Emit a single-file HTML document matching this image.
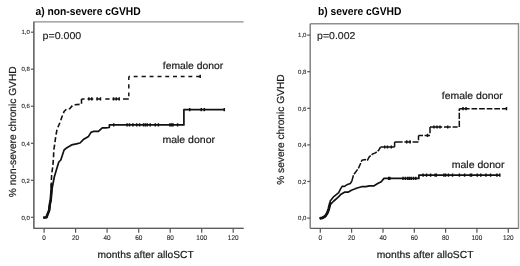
<!DOCTYPE html>
<html><head><meta charset="utf-8">
<style>
html,body{margin:0;padding:0;background:#fff;}
body{width:520px;height:266px;overflow:hidden;}
svg{display:block;will-change:transform;filter:blur(0.3px);}
text{font-family:"Liberation Sans",sans-serif;text-rendering:geometricPrecision;}
.t{font-weight:bold;font-size:10.3px;fill:#000;}
.p{font-size:9.9px;fill:#1e1e1e;stroke:#1e1e1e;stroke-width:0.15px;}
.lab{font-size:10.2px;fill:#1a1a1a;stroke:#1a1a1a;stroke-width:0.2px;}
.tk{font-size:6px;fill:#2a2a2a;stroke:#2a2a2a;stroke-width:0.12px;}
.bl{fill:none;stroke:#8e8e8e;stroke-width:1.4;}
.bd{fill:none;stroke:#5e5e5e;stroke-width:1.4;}
.tick{stroke:#555;stroke-width:1.2;}
.sol{fill:none;stroke:#111;stroke-width:1.7;stroke-linejoin:round;}
.dl{fill:none;stroke:#111;stroke-width:1.6;stroke-dasharray:5 2.6;}
.dx{fill:none;stroke:#111;stroke-width:1.5;}
.mk{fill:none;stroke:#111;stroke-width:1.5;}
</style></head>
<body>
<svg width="520" height="266" viewBox="0 0 520 266">
<!-- LEFT PANEL -->
<text class="t" transform="translate(35.4,14.5) scale(1,1.08)">a) non-severe cGVHD</text>
<path class="bl" d="M243.6,21.9H33.8V228.4H243.6"/><path class="bd" d="M33.8,228.4H243.6"/><path class="bd" style="stroke:#6a6a6a" d="M33.8,21.9V228.4"/>
<text class="p" x="42.5" y="39.0" textLength="38.8" lengthAdjust="spacingAndGlyphs">p=0.000</text>
<text class="lab" transform="translate(15.6,131.8) rotate(-90)" text-anchor="middle">% non-severe chronic GVHD</text>
<text class="lab" x="97.4" y="258.4" textLength="96.3" lengthAdjust="spacingAndGlyphs">months after alloSCT</text>
<g class="tick"><line x1="30.9" y1="217.3" x2="33.8" y2="217.3"/><line x1="30.9" y1="180.3" x2="33.8" y2="180.3"/><line x1="30.9" y1="143.3" x2="33.8" y2="143.3"/><line x1="30.9" y1="106.2" x2="33.8" y2="106.2"/><line x1="30.9" y1="69.2" x2="33.8" y2="69.2"/><line x1="30.9" y1="32.2" x2="33.8" y2="32.2"/><line x1="44.1" y1="228.4" x2="44.1" y2="232.7"/><line x1="75.6" y1="228.4" x2="75.6" y2="232.7"/><line x1="107.1" y1="228.4" x2="107.1" y2="232.7"/><line x1="138.7" y1="228.4" x2="138.7" y2="232.7"/><line x1="170.2" y1="228.4" x2="170.2" y2="232.7"/><line x1="201.7" y1="228.4" x2="201.7" y2="232.7"/><line x1="233.2" y1="228.4" x2="233.2" y2="232.7"/></g>
<g class="tk" text-anchor="end"><text x="29.8" y="219.5">0,0</text><text x="29.8" y="182.5">0,2</text><text x="29.8" y="145.5">0,4</text><text x="29.8" y="108.4">0,6</text><text x="29.8" y="71.4">0,8</text><text x="29.8" y="34.4">1,0</text></g>
<g class="tk" text-anchor="middle" style="font-size:6.9px"><text x="44.1" y="239.5" textLength="3.56" lengthAdjust="spacingAndGlyphs">0</text><text x="75.6" y="239.5" textLength="7.12" lengthAdjust="spacingAndGlyphs">20</text><text x="107.1" y="239.5" textLength="7.12" lengthAdjust="spacingAndGlyphs">40</text><text x="138.7" y="239.5" textLength="7.12" lengthAdjust="spacingAndGlyphs">60</text><text x="170.2" y="239.5" textLength="7.12" lengthAdjust="spacingAndGlyphs">80</text><text x="201.7" y="239.5" textLength="10.68" lengthAdjust="spacingAndGlyphs">100</text><text x="233.2" y="239.5" textLength="10.68" lengthAdjust="spacingAndGlyphs">120</text></g>
<text class="lab" x="162.8" y="69.2" textLength="60.4" lengthAdjust="spacingAndGlyphs">female donor</text>
<text class="lab" x="162.4" y="143.2" textLength="52.6" lengthAdjust="spacingAndGlyphs">male donor</text>
<!-- curves left -->
<path class="dl" d="M46.5,217.3 L47.6,214.3 L49.2,210.2 L49.7,205.1 L50.7,200.1 L51.3,190 L51.3,181.6 L51.7,174 L52.8,166.5 L53.5,157.5 L53.8,150 L54.7,144.4 L55.6,137.3 L56.9,130 L57.9,127.3 L60.1,122.2 L61.8,117.2 L64.1,111.5 L66.9,108.7 L69.7,108.7 L73.1,104.8 L79.9,104.4 L81.5,104.4 L81.5,98.9"/>
<path class="dx" style="stroke-width:1.45" d="M81.5,98.9H84.6M87.5,98.9H93.3M96.5,98.9H101M105.3,98.9H109.6M112.5,98.9H119.5M123.0,98.9H128.8M128.8,76.4V79.9M128.8,84.2V88.4M128.8,92.6V96.3M128.8,76.4H130M133.7,76.4H137.6M141.6,76.4H145.8M149.6,76.4H153.5M157.5,76.4H161.5M165.3,76.4H169.2M173,76.4H177M180.7,76.4H184.6M188.4,76.4H192.3M196.2,76.4H200.2"/>
<path class="sol" d="M43.5,217.6 L46.5,217.3 L47.6,214.3 L49.2,210.2 L49.7,205.1 L50.7,200.1 L51.8,190 L54.3,177 L56.5,169.5 L58.8,162 L60.8,160 L62.6,154.5 L64.1,150 L66.9,147.7 L71.6,144.9 L76.3,143.9 L80,143 L83.8,139.2 L88.5,136.4 L91,132.4 L93.9,131.3 L98.4,131.3 L102.3,127.8 L105.8,127.8 L109.3,127.5 L109.4,124.9 L183.9,124.9 L183.9,109.7 L224.3,109.7"/>
<path class="mk" d="M113.7,123.30v3.2M127.1,123.30v3.2M129.5,123.30v3.2M132.9,123.30v3.2M136.7,123.30v3.2M139.6,123.30v3.2M143.5,123.30v3.2M145.4,123.30v3.2M147.3,123.30v3.2M150.2,123.30v3.2M155.3,123.30v3.2M158.4,123.30v3.2M169.9,123.30v3.2M171.5,123.30v3.2M173,123.30v3.2M177.6,123.30v3.2M189.7,108.10v3.2M201.3,108.10v3.2M204.3,108.10v3.2M224.3,108.10v3.2M88.9,97.30v3.2M91.8,97.30v3.2M97.1,97.30v3.2M100.5,97.30v3.2M113.5,97.30v3.2M116.3,97.30v3.2M119.2,97.30v3.2M200.2,74.80v3.2"/>
<path class="sol" style="stroke-width:2.6" d="M43.2,217.7 L46.5,217.3 L47.6,214.3 L49.2,210.2 L49.7,205.1 L50.7,200.1 L51.5,190 L51.8,184"/>

<!-- RIGHT PANEL -->
<text class="t" transform="translate(317.9,15.4) scale(1,1.08)">b) severe cGVHD</text>
<path class="bl" d="M518.5,228.4V23.8H310.2"/><path class="bd" d="M310.2,228.4H518.5"/><path class="bd" style="stroke:#7a7a7a" d="M310.2,23.8V228.4"/>
<text class="p" x="317.1" y="39.1" textLength="38.3" lengthAdjust="spacingAndGlyphs">p=0.002</text>
<text class="lab" transform="translate(284.2,129.6) rotate(-90)" text-anchor="middle">% severe chronic GVHD</text>
<text class="lab" x="376.7" y="258.4" textLength="96.8" lengthAdjust="spacingAndGlyphs">months after alloSCT</text>
<g class="tick"><line x1="307.2" y1="218.1" x2="310.1" y2="218.1"/><line x1="307.2" y1="181.5" x2="310.1" y2="181.5"/><line x1="307.2" y1="144.9" x2="310.1" y2="144.9"/><line x1="307.2" y1="108.3" x2="310.1" y2="108.3"/><line x1="307.2" y1="71.7" x2="310.1" y2="71.7"/><line x1="307.2" y1="35.1" x2="310.1" y2="35.1"/><line x1="320.3" y1="228.4" x2="320.3" y2="232.7"/><line x1="351.6" y1="228.4" x2="351.6" y2="232.7"/><line x1="383.0" y1="228.4" x2="383.0" y2="232.7"/><line x1="414.3" y1="228.4" x2="414.3" y2="232.7"/><line x1="445.6" y1="228.4" x2="445.6" y2="232.7"/><line x1="476.9" y1="228.4" x2="476.9" y2="232.7"/><line x1="508.3" y1="228.4" x2="508.3" y2="232.7"/></g>
<g class="tk" text-anchor="end"><text x="306.4" y="220.3">0,0</text><text x="306.4" y="183.7">0,2</text><text x="306.4" y="147.1">0,4</text><text x="306.4" y="110.5">0,6</text><text x="306.4" y="73.9">0,8</text><text x="306.4" y="37.3">1,0</text></g>
<g class="tk" text-anchor="middle" style="font-size:6.9px"><text x="320.3" y="239.6" textLength="3.56" lengthAdjust="spacingAndGlyphs">0</text><text x="351.6" y="239.6" textLength="7.12" lengthAdjust="spacingAndGlyphs">20</text><text x="383.0" y="239.6" textLength="7.12" lengthAdjust="spacingAndGlyphs">40</text><text x="414.3" y="239.6" textLength="7.12" lengthAdjust="spacingAndGlyphs">60</text><text x="445.6" y="239.6" textLength="7.12" lengthAdjust="spacingAndGlyphs">80</text><text x="476.9" y="239.6" textLength="10.68" lengthAdjust="spacingAndGlyphs">100</text><text x="508.3" y="239.6" textLength="10.68" lengthAdjust="spacingAndGlyphs">120</text></g>
<text class="lab" x="441.8" y="99.2" textLength="61.0" lengthAdjust="spacingAndGlyphs">female donor</text>
<text class="lab" x="451.7" y="167.8" textLength="52.7" lengthAdjust="spacingAndGlyphs">male donor</text>
<!-- curves right -->
<path class="sol" style="stroke-width:1.6" d="M319.6,218.4 L322.6,217.8 L325.2,216.3 L327.2,213.3 L328.7,209.2 L329.7,205.2 L330.2,201.1 L333.8,196.6 L338.7,192.7 L340.6,188.8 L342.1,186.4 L344.5,186.4 L347.5,184.4 L350.4,183.4 L351.9,181"/>
<path class="sol" style="stroke-width:1.5;stroke-dasharray:6 1.2" d="M351.9,181 L353.5,174.9 L355.7,172 L358.5,168.1 L360.8,163 L361.9,160.2 L365.3,159.6 L367.5,160.2 L369.2,156.8 L372.6,154 L375.4,152.9 L378.8,150.1 L380.6,147"/>
<path class="dx" d="M380.6,147H394.6M394.6,141.9V147M394.6,141.9H402.6M404.4,141.9H411M412.6,141.9H418.5M418.5,135.4V140.3M418.5,135.4H423M424.6,135.4H430M430,127.0V133.2M430,127.0H442.2M444.0,127.0H450.8M452.6,127.0H457.6M459.3,108.7V111M459.3,112.7V118.9M459.3,120.7V127.0M459.3,108.7H469.6M471.5,108.7H477.2M479.1,108.7H484.8M486.7,108.7H492.4M494.3,108.7H500M501.9,108.7H506.5"/>
<path class="sol" d="M319.6,218.4 L322.6,217.8 L325.2,216.3 L327.2,213.3 L328.7,209.2 L329.7,205.2 L333.8,201 L337.7,197.6 L341.1,194.2 L344.5,192.2 L348,192.2 L351.4,190.3 L355.3,188.8 L356.3,188.3 L361.6,186.7 L365.8,186.7 L369.6,185.9 L373.7,185.9 L377.7,183.6 L381.2,181.8 L384,178.4 L418.9,178.4 L418.9,175.1 L499.8,175.1"/>
<path class="mk" d="M388.7,176.80v3.2M389.8,176.80v3.2M403,176.80v3.2M405.4,176.80v3.2M407.7,176.80v3.2M409.4,176.80v3.2M411.2,176.80v3.2M413.5,176.80v3.2M415.8,176.80v3.2M423.1,173.50v3.2M426.5,173.50v3.2M430.6,173.50v3.2M435.2,173.50v3.2M436.3,173.50v3.2M443.8,173.50v3.2M445.6,173.50v3.2M448.5,173.50v3.2M452.5,173.50v3.2M459.4,173.50v3.2M464.6,173.50v3.2M470.4,173.50v3.2M471.5,173.50v3.2M477.3,173.50v3.2M480.8,173.50v3.2M486,173.50v3.2M490.6,173.50v3.2M496.9,173.50v3.2M499.8,173.50v3.2M384.7,145.40v3.2M387.5,145.40v3.2M391.3,145.40v3.2M406.7,140.30v3.2M410,140.30v3.2M427.5,133.80v3.2M434,125.40v3.2M437,125.40v3.2M440,125.40v3.2M447.7,125.40v3.2M463,107.10v3.2M466,107.10v3.2M506.5,107.10v3.2"/>
<path class="sol" style="stroke-width:2.8" d="M319.8,218.3 L322.6,217.8 L325.2,216.3 L327.2,213.3 L328.7,209.2 L329.7,205.2 L330.4,202.5"/>
</svg>
</body></html>
